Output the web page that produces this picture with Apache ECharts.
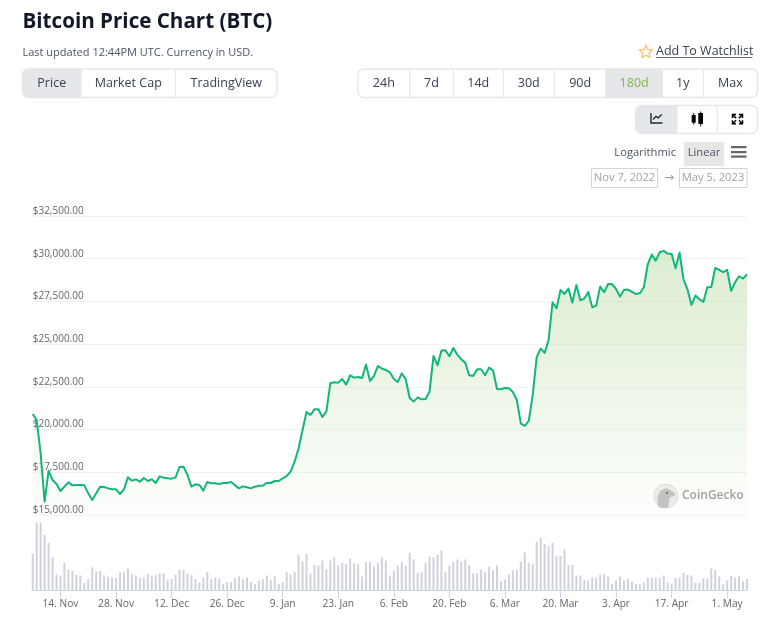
<!DOCTYPE html>
<html><head><meta charset="utf-8">
<style>html,body{margin:0;padding:0;background:#fff}#c{width:768px;height:619px}</style>
<script src="https://cdn.jsdelivr.net/npm/echarts@6/dist/echarts.min.js"></script>
</head><body><div id="c"></div>
<script>
const startDate = "2022-11-07";
const priceTicks = [15000, 32500, 2500];
const prices = [20913,20562,18610,15780,17595,17048,16814,16404,16658,16912,16736,16755,16755,16736,16267,15877,16267,16658,16638,16560,16502,16502,16228,16502,17204,17009,17087,16951,17165,16990,17087,16873,17263,17185,17146,17126,17204,17809,17829,17341,16658,16794,16755,16423,16931,16853,16853,16814,16873,16873,16931,16736,16560,16677,16619,16560,16658,16716,16716,16892,16873,16990,16990,
17150,17282,17535,18121,18902,19975,21029,20854,21186,21186,20737,21068,22708,22767,22747,22962,22630,23177,23040,23079,23020,23801,22845,23138,23723,23567,23489,23352,22962,22786,23294,22942,21849,21635,21888,21771,21791,22220,24309,23762,24621,24641,24289,24777,24387,24114,23918,23177,23138,23528,23528,23177,23626,23469,22376,22357,22435,22415,22201,21732,20366,20209,20502,22025,24231,24738,24485,25246,
27451,27099,28173,27939,28251,27431,28466,27568,27665,28056,27158,27255,28368,28036,28524,28505,28232,27783,28173,28192,28056,27939,27978,28329,29676,30242,29891,30379,30457,30301,30281,29442,30359,28798,28212,27295,27841,27626,27470,28329,28349,29461,29344,29207,29344,28114,28622,28973,28837,29090];
const volumes = [73,135,135,110,95,65,31,29,54,41,38,30,29,14,22,45,37,38,29,27,25,24,35,35,43,32,29,24,25,32,29,30,33,33,21,22,31,41,40,33,30,22,15,25,36,22,25,23,12,16,16,23,27,21,25,16,12,19,22,29,20,27,12,16,36,31,36,70,57,72,33,50,49,59,41,59,65,49,54,52,63,54,52,27,56,56,47,54,65,59,29,38,49,56,49,74,61,34,36,54,67,65,70,79,36,49,56,61,57,61,50,33,34,41,36,47,39,49,18,21,31,39,41,57,75,54,52,97,105,92,88,95,68,68,81,50,50,29,29,20,19,25,25,31,32,27,12,19,27,20,23,17,12,11,15,25,25,25,24,29,15,13,24,25,34,30,29,15,15,23,23,43,40,27,12,19,28,25,28,17,22];
const pageTexts = {title:"Bitcoin Price Chart (BTC)", sub:"Last updated 12:44PM UTC. Currency in USD.", watch:"Add To Watchlist", from:"Nov 7, 2022", to:"May 5, 2023"};
const viewTabs = ["Price","Market Cap","TradingView"];
const rangeTabs = ["24h","7d","14d","30d","90d","180d","1y","Max"];

const months=["Jan","Feb","Mar","Apr","May","Jun","Jul","Aug","Sep","Oct","Nov","Dec"];
const t0=Date.parse(startDate+"T00:00:00Z");
const categories=prices.map((_,i)=>{const d=new Date(t0+i*864e5);return d.getUTCDate()+". "+months[d.getUTCMonth()];});
const showTick=i=>i>=7&&(i-7)%14===0;

const UI='"Open Sans", "Noto Sans", sans-serif', AX='"Open Sans", "Noto Sans", sans-serif';
const BORDER='#e5e7eb', ACTIVE='#e5e7eb', TXT='#374151';
const g=[];
function text(x,y,t,font,fill,align){g.push({type:'text',x,y,style:{text:t,font,fill,textAlign:align||'left',textVerticalAlign:'middle'}});}
function buttons(edges,y0,y1,labels,active,activeFill){
  const x0=edges[0],x1=edges[edges.length-1];
  for(let i=0;i<edges.length-1;i++){
    if(i===active){
      const r=[i===0?6:0,i===edges.length-2?6:0,i===edges.length-2?6:0,i===0?6:0];
      g.push({type:'rect',shape:{x:edges[i],y:y0,width:edges[i+1]-edges[i],height:y1-y0,r},style:{fill:ACTIVE}});
    }
    if(i>0)g.push({type:'line',shape:{x1:edges[i],y1:y0,x2:edges[i],y2:y1},style:{stroke:BORDER,lineWidth:1.2}});
    if(labels)text((edges[i]+edges[i+1])/2,(y0+y1)/2,labels[i],'500 12.5px '+UI,i===active&&activeFill?activeFill:TXT,'center');
  }
  g.push({type:'rect',shape:{x:x0,y:y0,width:x1-x0,height:y1-y0,r:6},style:{fill:'none',stroke:BORDER,lineWidth:1.4}});
}
const poly=(pts,stroke,w)=>g.push({type:'polyline',shape:{points:pts},style:{fill:'none',stroke,lineWidth:w}});
const box=(x,y,w,h,fill)=>g.push({type:'rect',shape:{x,y,width:w,height:h},style:{fill}});

buttons([22.5,81,175.5,277],69,97.5,viewTabs,0);
buttons([358,409.7,453.3,503.3,554.3,606,662.3,703.3,757.5],69,97.5,rangeTabs,5,'#7fb840');
buttons([635.7,677,717.3,757.5],105.5,133.5,null,0);

// star
const star=[];for(let i=0;i<10;i++){const a=-Math.PI/2+i*Math.PI/5,r=i%2?3.2:6.8;star.push([646+r*Math.cos(a),52+r*Math.sin(a)]);}
g.push({type:'polygon',shape:{points:star},style:{fill:'none',stroke:'#f8c26a',lineWidth:1.2}});
text(656,51,pageTexts.watch,'500 12.5px '+UI,TXT);
g.push({type:'line',shape:{x1:656,y1:57.5,x2:752.5,y2:57.5},style:{stroke:'#6b7280',lineWidth:1}});

// line icon
poly([[651,113],[651,123],[662.5,123]],'#1f2937',1.4);
poly([[653,119.5],[656,116.3],[658.2,117.8],[661.8,114.6]],'#1f2937',1.4);
// candle icon
box(691.7,115,4,7.7,'#000');box(693.2,113,1,11.5,'#000');
box(698.3,113,4.7,11,'#000');box(700.2,111.5,1,15,'#000');
// expand icon
[[732.5,114.5,1,1],[742.5,114.5,-1,1],[732.5,123.8,1,-1],[742.5,123.8,-1,-1]].forEach(([x,y,a,b])=>{
  poly([[x+a*3.5,y],[x,y],[x,y+b*3.5]],'#000',1.5);
  poly([[x,y],[x+a*3.6,y+b*3.6]],'#000',1.5);
});

// range controls
text(676,152.5,'Logarithmic','11.2px '+UI,'#4b5563','right');
box(684,142,40,24,'#e6e6e6');
text(704,152.5,'Linear','11.2px '+UI,'#4b5563','center');
[147,152,156.5].forEach(y=>box(731,y-1,15.5,2.2,'#666'));
g.push({type:'rect',shape:{x:591.5,y:168.5,width:66,height:19},style:{fill:'#fff',stroke:'#d4d4d4',lineWidth:1}});
g.push({type:'rect',shape:{x:679.5,y:168.5,width:67.5,height:19},style:{fill:'#fff',stroke:'#d4d4d4',lineWidth:1}});
text(624.5,178,pageTexts.from,'11.2px '+UI,'#a3a3a3','center');
text(713,178,pageTexts.to,'11.2px '+UI,'#a3a3a3','center');
text(669,178,'→','12px "DejaVu Sans"','#999','center');

// watermark
g.push({type:'circle',shape:{cx:665.8,cy:496,r:12},style:{fill:'#efefef',stroke:'#dedede',lineWidth:1}});
g.push({type:'polygon',shape:{points:[[659,507],[657.5,498],[660,491.5],[665,488.5],[670,489.5],[674.5,493],[675,495.5],[670,497.5],[669,502],[668,507.5],[664,508]],smooth:0.3},style:{fill:'#c4c4c4'}});
g.push({type:'circle',shape:{cx:667,cy:493,r:1.2},style:{fill:'#777'}});
text(682,496,'CoinGecko','600 12px '+AX,'#a0a0a0');

const chart=echarts.init(document.getElementById('c'),null,{renderer:'canvas',width:768,height:619});
chart.setOption({
  animation:false,
  title:{text:pageTexts.title,subtext:pageTexts.sub,left:22.5,top:12,itemGap:14,padding:0,
    textStyle:{fontFamily:UI,fontSize:20.6,fontWeight:700,color:'#111827'},
    subtextStyle:{fontFamily:UI,fontSize:11,color:'#4b5563'}},
  grid:[{left:32.7,right:21,top:216,height:299},{left:32.7,right:21,top:522,height:68}],
  xAxis:[
    {type:'category',gridIndex:0,data:categories,boundaryGap:false,show:false},
    {type:'category',gridIndex:1,data:categories,boundaryGap:false,
      axisLine:{lineStyle:{color:'#ccd6eb',width:1}},
      axisTick:{length:8,interval:(i)=>showTick(i),lineStyle:{color:'#ccd6eb'}},
      axisLabel:{interval:(i)=>showTick(i),margin:9,color:'#666',fontFamily:AX,fontSize:10.2,hideOverlap:false}}
  ],
  yAxis:[
    {type:'value',gridIndex:0,min:priceTicks[0],max:priceTicks[1],interval:priceTicks[2],
      axisLine:{show:false},axisTick:{show:false},
      splitLine:{lineStyle:{color:'#f2f2f2'}},
      axisLabel:{inside:true,margin:0,verticalAlign:'bottom',padding:[0,0,0,0],color:'#666',fontFamily:AX,fontSize:10,
        formatter:v=>'$'+v.toLocaleString('en-US',{minimumFractionDigits:2,maximumFractionDigits:2})}},
    {type:'value',gridIndex:1,min:0,max:136,show:false}
  ],
  series:[
    {type:'line',xAxisIndex:0,yAxisIndex:0,data:prices,symbol:'none',z:3,
      lineStyle:{color:'#12b67a',width:2,join:'round'},
      areaStyle:{color:new echarts.graphic.LinearGradient(0,0,0,1,[{offset:0,color:'rgba(130,190,90,0.4)'},{offset:1,color:'rgba(130,190,90,0.02)'}])}},
    {type:'bar',xAxisIndex:1,yAxisIndex:1,data:volumes,barWidth:2,clip:false,itemStyle:{color:'#d0d3dc'}}
  ],
  graphic:{elements:g}
});
</script></body></html>
